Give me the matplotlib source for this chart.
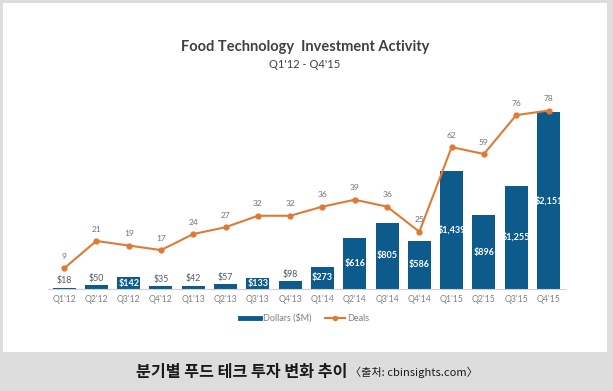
import matplotlib.pyplot as plt
from matplotlib.lines import Line2D
from matplotlib.patches import Rectangle

quarters = ["Q1'12", "Q2'12", "Q3'12", "Q4'12", "Q1'13", "Q2'13", "Q3'13", "Q4'13",
            "Q1'14", "Q2'14", "Q3'14", "Q4'14", "Q1'15", "Q2'15", "Q3'15", "Q4'15"]
dollars = [18, 50, 142, 35, 42, 57, 133, 98, 273, 616, 805, 586, 1439, 896, 1255, 2151]
deals = [9, 21, 19, 17, 24, 27, 32, 32, 36, 39, 36, 25, 62, 59, 76, 78]

azul = '#0d5b8c'
naranja = '#e07a33'
gris = '#808080'

W, H = 613, 391
fig = plt.figure(figsize=(W / 100, H / 100), dpi=100)
fig.patch.set_facecolor('#dcdddc')

# panel blanco
fig.patches.append(Rectangle((3 / W, 1 - 352 / H), 604 / W, 349 / H,
                             transform=fig.transFigure, facecolor='white',
                             edgecolor='none', zorder=-10))

ax = fig.add_axes([47.9 / W, 1 - 289 / H, 516.8 / W, 189 / H])
ax.set_facecolor('none')
x = list(range(len(quarters)))
ax.bar(x, dollars, width=0.71, color=azul, zorder=2)
ax.set_xlim(-0.5, 15.5)
ax.set_ylim(0, 2297)
for s in ['top', 'right', 'left']:
    ax.spines[s].set_visible(False)
ax.spines['bottom'].set_color('#d0d0d0')
ax.set_yticks([])
ax.set_xticks(x)
ax.set_xticklabels(quarters, fontsize=6.3, color=gris, family='Lato')
ax.tick_params(axis='x', length=0, pad=4)

for xi, v in zip(x, dollars):
    txt = f"${v:,}"
    if v > 120:
        ax.text(xi, v / 2, txt, ha='center', va='center', fontsize=6.5,
                color='white', family='Lato', fontweight='bold', zorder=3)
    else:
        ax.text(xi, v + 25, txt, ha='center', va='bottom', fontsize=6.3,
                color='#4f5b66', family='Lato', zorder=3)

ax2 = ax.twinx()
ax2.set_ylim(0, 82.6)
ax2.plot(x, deals, color=naranja, lw=1.5, marker='o', ms=3.5, zorder=4)
ax2.axis('off')
for xi, d in zip(x, deals):
    ax2.annotate(str(d), (xi, d), xytext=(0, 6), textcoords='offset points',
                 ha='center', va='bottom', fontsize=6, color='#707070', family='Lato')

fig.text(305 / W, 1 - 47 / H, 'Food Technology  Investment Activity', ha='center',
         va='center', fontsize=10.5, fontweight='bold', color='#404040', family='Lato')
fig.text(305 / W, 1 - 65 / H, "Q1'12 - Q4'15", ha='center', va='center',
         fontsize=8, color='#404040', family='Lato')

handles = [Line2D([], [], color=azul, lw=3.5),
           Line2D([], [], color=naranja, lw=1.5, marker='o', ms=3)]
fig.legend(handles, ['Dollars ($M)', 'Deals'], loc='center',
           bbox_to_anchor=(305 / W, 1 - 318 / H), ncol=2, frameon=False,
           prop={'family': 'Lato', 'size': 6.5}, labelcolor=gris,
           handlelength=2.2, columnspacing=1.5, handletextpad=0.3)

fig.text(347 / W, 1 - 372 / H, '분기별 푸드 테크 투자 변화 추이', ha='right', va='center',
         fontsize=11.6, fontweight='bold', color='#1a1a1a', family='Noto Sans CJK KR')
fig.text(350 / W, 1 - 372 / H, '〈출처: cbinsights.com〉', ha='left', va='center',
         fontsize=8, color='#1a1a1a', family='Noto Sans CJK KR')

fig.savefig('out.png', dpi=100, facecolor=fig.get_facecolor())
